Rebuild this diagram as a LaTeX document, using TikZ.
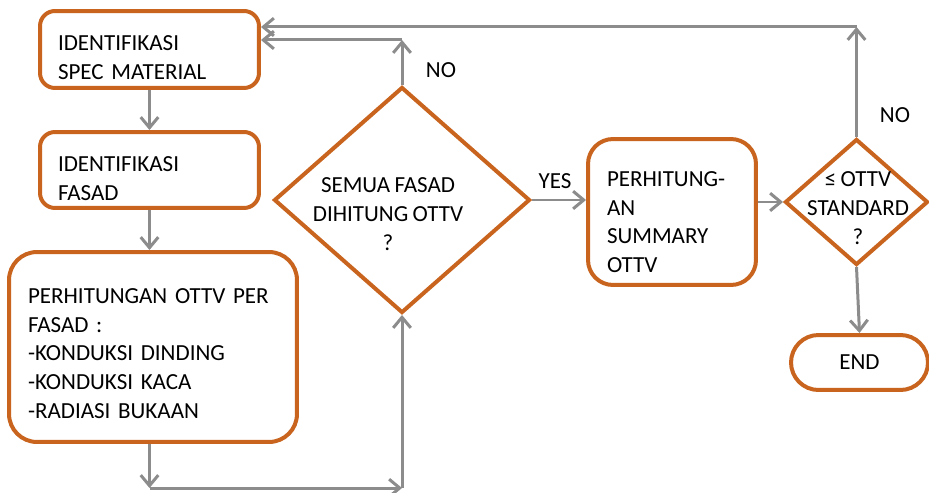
\documentclass[tikz,border=0pt]{standalone}
\usepackage{fontspec}
\setmainfont{Carlito}[WordSpace=0.85]
\usetikzlibrary{shapes.geometric,arrows.meta}

\definecolor{boxorange}{RGB}{200,100,30}
\definecolor{linegray}{RGB}{140,140,140}

\begin{document}
\begin{tikzpicture}[x=0.02cm,y=-0.02cm,
	every node/.style={font=\fontsize{13.1}{16.4}\selectfont},
	stepbox/.style={draw=boxorange,line width=0.08cm,fill=white,inner ysep=0pt,align=left},
	choice/.style={draw=boxorange,line width=0.08cm,shape=diamond,inner sep=0pt},
	arr/.style={draw=linegray,line width=0.06cm,-{Straight Barb[length=6pt,width=10pt]}}]
	\useasboundingbox (0,0) rectangle (929,493);

	% process boxes
	\node[stepbox,rounded corners=0.3cm,inner xsep=0.36cm,minimum width=4.38cm,minimum height=1.54cm,text width=3.66cm]
		(spec) at (149.5,49.5) {\rule{0pt}{18pt}IDENTIFIKASI\\SPEC MATERIAL};
	\node[stepbox,rounded corners=0.3cm,inner xsep=0.36cm,minimum width=4.38cm,minimum height=1.52cm,text width=3.66cm]
		(fasad) at (149.5,170) {\rule{0pt}{18pt}IDENTIFIKASI\\FASAD};
	\node[stepbox,rounded corners=0.56cm,inner xsep=0.38cm,minimum width=5.76cm,minimum height=3.8cm,text width=5cm]
		(perfasad) at (153,347) {\rule{0pt}{16pt}PERHITUNGAN~OTTV~PER\\FASAD :\\-KONDUKSI DINDING\\-KONDUKSI KACA\\-RADIASI BUKAAN};
	\node[stepbox,rounded corners=0.5cm,inner xsep=0.38cm,minimum width=3.36cm,minimum height=2.92cm,text width=2.6cm]
		(summary) at (672,212) {\rule{0pt}{20pt}PERHITUNG-\\AN\\SUMMARY\\OTTV};
	\node[stepbox,rounded corners=0.55cm,minimum width=2.74cm,minimum height=1.1cm]
		(selesai) at (859.5,362.5) {END};

	% decisions
	\node[choice,minimum width=5.12cm,minimum height=4.52cm] (semua) at (402,200) {};
	\node[align=center] (semuatxt) at (388,214) {SEMUA FASAD\\DIHITUNG OTTV\\?};
	\node[choice,minimum width=2.86cm,minimum height=2.52cm] (cek) at (856.5,202) {};
	\node[align=center] (cektxt) at (858,208) {≤ OTTV\\STANDARD\\?};

	\coordinate (lowL) at (149.5,488);
	\coordinate (lowR) at (402,488);
	\coordinate (upA) at (402,40);
	\coordinate (upB) at (856.5,27);

	% connectors
	\draw[arr] (spec.south) -- (fasad.north);
	\draw[arr] (fasad.south) -- (fasad.south |- perfasad.north);
	\draw[arr] (perfasad.south -| lowL) -- (lowL);
	\draw[arr] (lowL) -- (lowR);
	\draw[arr] (lowR) -- (semua.south);
	\draw[arr] (semua.north) -- (upA);
	\draw[arr] (upA) -- (upA -| spec.east);
	\draw[arr] (semua.east) -- (semua.east -| summary.west);
	\draw[arr] (summary.east |- cek.west) -- (cek.west);
	\draw[arr] (cek.north) -- (upB);
	\draw[arr] (upB) -- (upB -| spec.east);
	\draw[arr] (cek.south) -- (selesai.north);

	\node (no1) at (441,70) {NO};
	\node (yes) at (555,181) {YES};
	\node (no2) at (895,115) {NO};
\end{tikzpicture}
\end{document}
